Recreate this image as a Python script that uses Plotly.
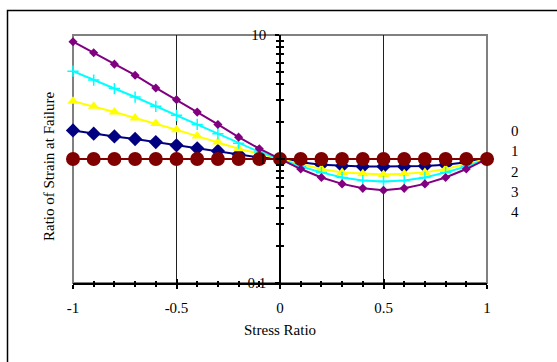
import plotly.graph_objects as go

# ---------------- data ----------------
stress_ratio = [-1.0, -0.9, -0.8, -0.7, -0.6, -0.5, -0.4, -0.3, -0.2, -0.1,
                0.0, 0.1, 0.2, 0.3, 0.4, 0.5, 0.6, 0.7, 0.8, 0.9, 1.0]

series_names = ["0", "1", "2", "3", "4"]

s0 = [1.0] * 21
s1 = [1.70, 1.60, 1.52, 1.45, 1.37, 1.29, 1.22, 1.16, 1.09, 1.03,
      1.0, 0.94, 0.90, 0.88, 0.87, 0.87, 0.87, 0.88, 0.90, 0.94, 1.0]
s2 = [2.92, 2.66, 2.39, 2.14, 1.93, 1.72, 1.53, 1.37, 1.21, 1.10,
      1.0, 0.91, 0.83, 0.78, 0.76, 0.75, 0.76, 0.78, 0.83, 0.91, 1.0]
s3 = [5.11, 4.33, 3.70, 3.16, 2.66, 2.25, 1.90, 1.60, 1.34, 1.14,
      1.0, 0.87, 0.78, 0.71, 0.67, 0.66, 0.67, 0.71, 0.78, 0.87, 1.0]
s4 = [8.83, 7.19, 5.82, 4.74, 3.74, 3.01, 2.39, 1.90, 1.50, 1.21,
      1.0, 0.83, 0.71, 0.63, 0.58, 0.56, 0.58, 0.63, 0.71, 0.83, 1.0]

x_ticks = [-1, -0.5, 0, 0.5, 1]
x_ticklabels = ["-1", "-0.5", "0", "0.5", "1"]
y_ticks = [0.1, 1, 10]
y_ticklabels = ["0.1", "1", "10"]

# ---------------- layout helpers ----------------
W, H = 557, 362
L, R, T, B = 73, 487, 35, 283  # plot area in pixels
def px_x(p):
    return (p - L) / (R - L)
def px_y(p):
    return (B - p) / (B - T)

FONT = "Liberation Serif"
FS = 15

fig = go.Figure()

styles = {
    "1": dict(color="#000080", symbol="diamond", size=11, lw=0),
    "2": dict(color="#FFFF00", symbol="triangle-up", size=10, lw=0),
    "3": dict(color="#00FFFF", symbol="cross-thin-open", size=8, lw=1.5),
    "4": dict(color="#800080", symbol="diamond", size=7, lw=0),
    "0": dict(color="#800000", symbol="circle", size=14, lw=0),
}
data = {"0": s0, "1": s1, "2": s2, "3": s3, "4": s4}

for name in ["1", "2", "3", "4", "0"]:
    st = styles[name]
    fig.add_trace(go.Scatter(
        x=stress_ratio, y=data[name], name=name, mode="lines+markers",
        line=dict(color=st["color"], width=2),
        marker=dict(symbol=st["symbol"], size=st["size"], color=st["color"],
                    line=dict(color=st["color"], width=st["lw"])),
        showlegend=False, cliponaxis=False,
    ))

# invisible trace to activate overlay axes
fig.add_trace(go.Scatter(x=[0], y=[1], xaxis="x2", yaxis="y2",
                         mode="markers", marker=dict(opacity=0),
                         showlegend=False, hoverinfo="skip"))

tickfont = dict(family=FONT, size=FS, color="black")

fig.update_layout(
    width=W, height=H,
    margin=dict(l=L, r=W - R, t=T, b=H - B, pad=0),
    paper_bgcolor="white", plot_bgcolor="white",
    xaxis=dict(range=[-1, 1], tickvals=x_ticks, ticktext=x_ticklabels,
               showgrid=True, gridcolor="#202020", gridwidth=1,
               zeroline=False, showline=True, linecolor="black", linewidth=1.5,
               ticks="outside", ticklen=4, tickcolor="black", tickwidth=1.5,
               minor=dict(dtick=0.1, ticks="outside", ticklen=2, tickcolor="black",
                          showgrid=False),
               tickfont=tickfont, ticklabelstandoff=6, fixedrange=True),
    xaxis2=dict(range=[-1, 1], overlaying="x", anchor="y", side="bottom",
                tickvals=x_ticks, showticklabels=False, showgrid=False,
                zeroline=False, ticks="inside", ticklen=4, tickcolor="black",
                tickwidth=1.5,
                minor=dict(dtick=0.1, ticks="inside", ticklen=2, tickcolor="black",
                           showgrid=False)),
    yaxis=dict(type="log", range=[-1, 1], tickvals=y_ticks, ticktext=y_ticklabels,
               anchor="free", position=0.5, showgrid=False, zeroline=False,
               showline=True, linecolor="black", linewidth=1.5,
               ticks="outside", ticklen=4, tickcolor="black", tickwidth=1.5,
               minor=dict(ticks="outside", ticklen=3, tickcolor="black",
                          dtick="D1", showgrid=False),
               tickfont=tickfont, ticklabelstandoff=6, fixedrange=True),
    yaxis2=dict(type="log", range=[-1, 1], overlaying="y", anchor="free",
                position=0.5, tickvals=y_ticks, showticklabels=False,
                showgrid=False, zeroline=False, showline=False,
                ticks="inside", ticklen=4, tickcolor="black", tickwidth=1.5,
                minor=dict(ticks="inside", ticklen=3, tickcolor="black",
                           dtick="D1", showgrid=False)),
    showlegend=False,
)

# plot area border (gray) and outer chart frame
fig.add_shape(type="rect", xref="paper", yref="paper", x0=0, x1=1, y0=0, y1=1,
              line=dict(color="#808080", width=2), layer="below")
fig.add_shape(type="rect", xref="paper", yref="paper",
              x0=px_x(7.5), x1=px_x(W + 20), y0=px_y(10.5), y1=px_y(H + 20),
              line=dict(color="black", width=1.5), layer="below")

# titles
fig.add_annotation(text="Ratio of Strain at Failure", xref="paper", yref="paper",
                   x=px_x(49), y=px_y(167), xanchor="center", yanchor="middle",
                   textangle=-90, showarrow=False,
                   font=dict(family=FONT, size=FS, color="black"))
fig.add_annotation(text="Stress Ratio", xref="paper", yref="paper",
                   x=px_x(280), y=px_y(330), xanchor="center", yanchor="middle",
                   showarrow=False,
                   font=dict(family=FONT, size=FS, color="black"))

# legend entries (text only, as in the reference)
for i, name in enumerate(series_names):
    fig.add_annotation(text=name, xref="paper", yref="paper",
                       x=px_x(515), y=px_y(131 + 20.3 * i),
                       xanchor="center", yanchor="middle", showarrow=False,
                       font=dict(family=FONT, size=FS, color="black"))

fig.write_html("out.html")
